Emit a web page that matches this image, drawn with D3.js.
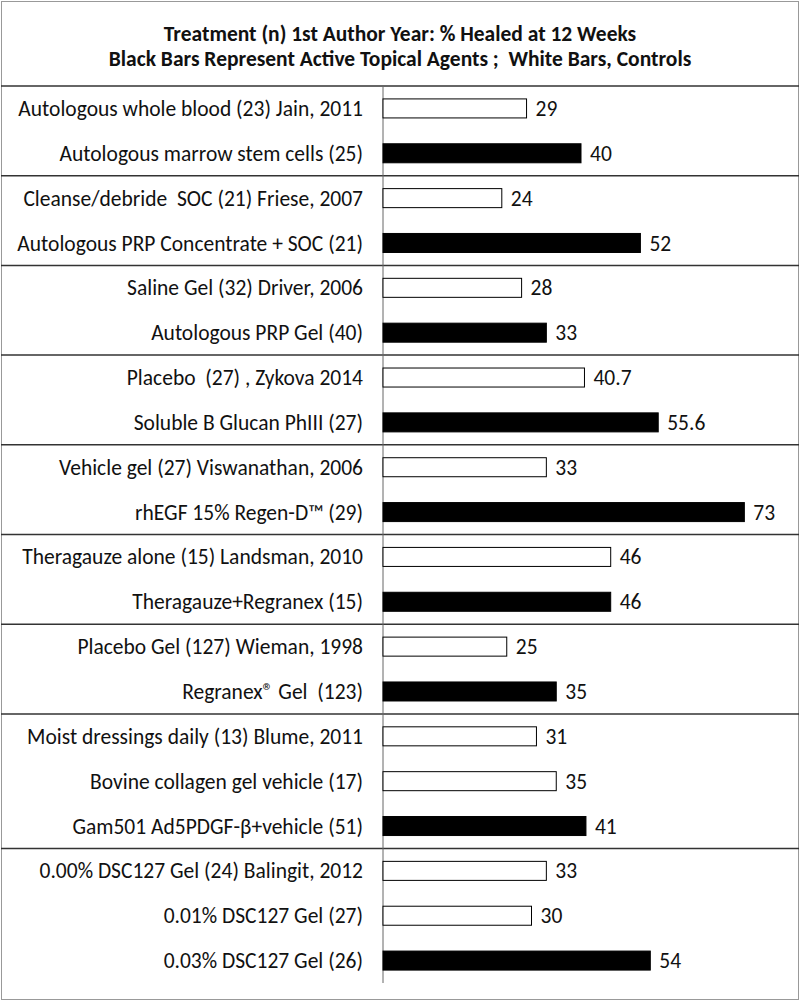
<!DOCTYPE html>
<html>
<head>
<meta charset="utf-8">
<script src="https://cdn.jsdelivr.net/npm/d3@7"></script>
<style>
  html, body { margin: 0; padding: 0; background: #fff; }
  svg { display: block; }
  text { font-family: Carlito, Lato, "Open Sans", sans-serif; fill: #111; white-space: pre; }
</style>
</head>
<body>
<svg id="chart" width="800" height="1003"></svg>
<script>
// ---- data ----
const titleLines = [
  "Treatment (n) 1st Author Year: % Healed at 12 Weeks",
  "Black Bars Represent Active Topical Agents ;  White Bars, Controls"
];
const labels = [
  "Autologous whole blood (23) Jain, 2011",
  "Autologous marrow stem cells (25)",
  "Cleanse/debride  SOC (21) Friese, 2007",
  "Autologous PRP Concentrate + SOC (21)",
  "Saline Gel (32) Driver, 2006",
  "Autologous PRP Gel (40)",
  "Placebo  (27) , Zykova 2014",
  "Soluble B Glucan PhIII (27)",
  "Vehicle gel (27) Viswanathan, 2006",
  "rhEGF 15% Regen-D\u2122 (29)",
  "Theragauze alone (15) Landsman, 2010",
  "Theragauze+Regranex (15)",
  "Placebo Gel (127) Wieman, 1998",
  "Regranex\u00AE Gel  (123)",
  "Moist dressings daily (13) Blume, 2011",
  "Bovine collagen gel vehicle (17)",
  "Gam501 Ad5PDGF-\u03B2+vehicle (51)",
  "0.00% DSC127 Gel (24) Balingit, 2012",
  "0.01% DSC127 Gel (27)",
  "0.03% DSC127 Gel (26)"
];
const values = [29, 40, 24, 52, 28, 33, 40.7, 55.6, 33, 73, 46, 46, 25, 35, 31, 35, 41, 33, 30, 54];
const active = [0, 1, 0, 1, 0, 1, 0, 1, 0, 1, 0, 1, 0, 1, 0, 0, 1, 0, 0, 1];
const groups = [0, 0, 1, 1, 2, 2, 3, 3, 4, 4, 5, 5, 6, 6, 7, 7, 7, 8, 8, 8];

// ---- layout ----
const W = 800, H = 1003;
const svg = d3.select("#chart");
const axisX = 383;
const plotTop = 86, plotBottom = 983;

const x = d3.scaleLinear().domain([0, 100]).range([axisX, axisX + 495]);
const y = d3.scaleBand().domain(d3.range(labels.length)).range([plotTop, plotBottom]).paddingInner(0.576).paddingOuter(0.288);
const step = y.step();

// outer border
svg.append("rect").attr("x", 1.5).attr("y", 1.5).attr("width", W - 3).attr("height", 998)
  .attr("fill", "none").attr("stroke", "#999").attr("stroke-width", 1);

// title
svg.append("g").selectAll("text").data(titleLines).join("text")
  .attr("x", W / 2).attr("y", (d, i) => 41 + i * 25)
  .attr("text-anchor", "middle")
  .attr("font-size", 21.5).attr("font-weight", "bold")
  .text(d => d);

// title box bottom line
svg.append("line").attr("x1", 1).attr("x2", W - 1).attr("y1", plotTop).attr("y2", plotTop)
  .attr("stroke", "#333").attr("stroke-width", 1.5);

// group separators
const bounds = [];
for (let i = 1; i < groups.length; i++) if (groups[i] !== groups[i - 1]) bounds.push(i);
svg.selectAll("line.sep").data(bounds).join("line").attr("class", "sep")
  .attr("x1", 1).attr("x2", W - 1)
  .attr("y1", d => plotTop + d * step).attr("y2", d => plotTop + d * step)
  .attr("stroke", "#333").attr("stroke-width", 1.5);

// vertical axis
svg.append("line").attr("x1", axisX).attr("x2", axisX).attr("y1", plotTop).attr("y2", plotBottom)
  .attr("stroke", "#666").attr("stroke-width", 1);

// bars
svg.selectAll("rect.bar").data(values).join("rect").attr("class", "bar")
  .attr("x", x(0))
  .attr("y", (d, i) => y(i))
  .attr("width", d => x(d) - x(0))
  .attr("height", y.bandwidth())
  .attr("fill", (d, i) => active[i] ? "#000" : "#fff")
  .attr("stroke", "#000").attr("stroke-width", 1);

// value labels
svg.selectAll("text.val").data(values).join("text").attr("class", "val")
  .attr("x", d => x(d) + 9)
  .attr("y", (d, i) => y(i) + y.bandwidth() / 2)
  .attr("dy", "0.35em")
  .attr("font-size", 21.5)
  .text(d => d);

// category labels
svg.selectAll("text.lab").data(labels).join("text").attr("class", "lab")
  .attr("x", 363)
  .attr("y", (d, i) => y(i) + y.bandwidth() / 2)
  .attr("dy", "0.35em")
  .attr("text-anchor", "end")
  .attr("font-size", 21.5)
  .text(d => d);
</script>
</body>
</html>
